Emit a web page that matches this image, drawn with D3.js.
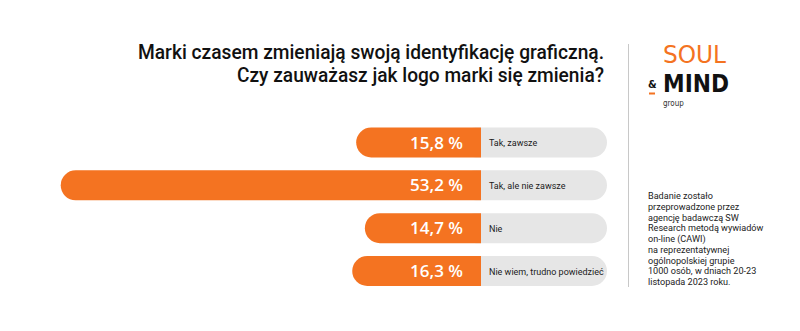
<!DOCTYPE html>
<html>
<head>
<meta charset="utf-8">
<script src="https://cdn.jsdelivr.net/npm/d3@7/dist/d3.min.js"></script>
<style>
  html, body { margin: 0; padding: 0; background: #fff; }
  svg { display: block; }
</style>
</head>
<body>
<svg id="chart" width="800" height="331"></svg>
<script>
// ---- Data ----
const categories = ["Tak, zawsze", "Tak, ale nie zawsze", "Nie", "Nie wiem, trudno powiedzieć"];
const values = [15.8, 53.2, 14.7, 16.3];
const titleLines = ["Marki czasem zmieniają swoją identyfikację graficzną.", "Czy zauważasz jak logo marki się zmienia?"];
const noteLines = [
  "Badanie zostało",
  "przeprowadzone przez",
  "agencję badawczą SW",
  "Research metodą wywiadów",
  "on-line (CAWI)",
  "na reprezentatywnej",
  "ogólnopolskiej grupie",
  "1000 osób, w dniach 20-23",
  "listopada 2023 roku."
];

const ORANGE = "#F47321";
const GRAY = "#E6E6E6";
const DARK = "#1b1b1b";

const svg = d3.select("#chart");

// ---- Scales ----
const barEnd = 481;
const x = d3.scaleLinear().domain([0, 100]).range([barEnd, barEnd - 790]);
const y = d3.scalePoint().domain(categories).range([142.5, 271]);
const barH = 30;
const r = barH / 2;
const grayEnd = 607;

const fmt = v => d3.format(".1f")(v).replace(".", ",") + " %";

const rows = svg.append("g").selectAll("g")
  .data(categories.map((c, i) => ({ c, v: values[i] })))
  .join("g")
  .attr("transform", d => `translate(0,${y(d.c)})`);

// gray background pill
rows.append("rect")
  .attr("x", barEnd - 20)
  .attr("y", -barH / 2)
  .attr("width", grayEnd - (barEnd - 20))
  .attr("height", barH)
  .attr("rx", r).attr("ry", r)
  .attr("fill", GRAY);

// orange bar with rounded left end, square right end
rows.append("path")
  .attr("fill", ORANGE)
  .attr("d", d => {
    const x0 = x(d.v), x1 = barEnd;
    const p = d3.path();
    p.moveTo(x1, -barH / 2);
    p.lineTo(x0 + r, -barH / 2);
    p.arc(x0 + r, 0, r, -Math.PI / 2, Math.PI / 2, true);
    p.lineTo(x1, barH / 2);
    p.closePath();
    return p.toString();
  });

rows.append("text")
  .attr("x", 463)
  .attr("y", 6)
  .attr("text-anchor", "end")
  .attr("fill", "#fff")
  .attr("font-family", "'Open Sans', sans-serif")
  .attr("font-weight", 600)
  .attr("font-size", 17)
  .text(d => fmt(d.v));

rows.append("text")
  .attr("x", 489)
  .attr("y", 3.5)
  .attr("fill", DARK)
  .attr("font-family", "Roboto, sans-serif")
  .attr("font-size", 9)
  .text(d => d.c);

// ---- Title ----
const titleRight = 604;
svg.append("g").selectAll("text")
  .data(titleLines)
  .join("text")
  .attr("x", titleRight)
  .attr("y", (d, i) => 58.5 + i * 23)
  .attr("text-anchor", "end")
  .attr("fill", "#111")
  .attr("font-family", "Roboto, sans-serif")
  .attr("font-weight", 500)
  .attr("font-size", 19.5)
  .attr("textLength", (d, i) => i === 0 ? 466 : 367)
  .attr("lengthAdjust", "spacingAndGlyphs")
  .text(d => d);

// ---- Divider ----
svg.append("line")
  .attr("x1", 628.5).attr("x2", 628.5)
  .attr("y1", 44).attr("y2", 287)
  .attr("stroke", "#c8c8c8").attr("stroke-width", 1);

// ---- Logo ----
const logo = svg.append("g");
logo.append("text")
  .attr("x", 663).attr("y", 62.5)
  .attr("fill", ORANGE)
  .attr("font-family", "'DejaVu Sans Condensed', 'Liberation Sans Narrow', sans-serif")
  .attr("font-weight", 300)
  .attr("font-size", 24)
  .attr("textLength", 63)
  .attr("lengthAdjust", "spacingAndGlyphs")
  .text("SOUL");
logo.append("text")
  .attr("x", 648).attr("y", 88)
  .attr("fill", "#111")
  .attr("font-family", "'DejaVu Sans Condensed', sans-serif")
  .attr("font-weight", 700)
  .attr("font-size", 11)
  .text("&");
logo.append("text")
  .attr("x", 663).attr("y", 91.5)
  .attr("fill", "#111")
  .attr("font-family", "'DejaVu Sans Condensed', 'Liberation Sans Narrow', sans-serif")
  .attr("font-weight", 700)
  .attr("font-size", 24)
  .attr("textLength", 66)
  .attr("lengthAdjust", "spacingAndGlyphs")
  .text("MIND");
logo.append("rect")
  .attr("x", 649).attr("y", 92.5)
  .attr("width", 6).attr("height", 2)
  .attr("fill", ORANGE);
logo.append("text")
  .attr("x", 663).attr("y", 106)
  .attr("fill", "#333")
  .attr("font-family", "'DejaVu Sans Condensed', sans-serif")
  .attr("font-size", 8)
  .text("group");

// ---- Note ----
svg.append("g").selectAll("text")
  .data(noteLines)
  .join("text")
  .attr("x", 648)
  .attr("y", (d, i) => 199 + i * 10.75)
  .attr("fill", "#222")
  .attr("font-family", "Roboto, sans-serif")
  .attr("font-size", 9.1)
  .text(d => d);
</script>
</body>
</html>
